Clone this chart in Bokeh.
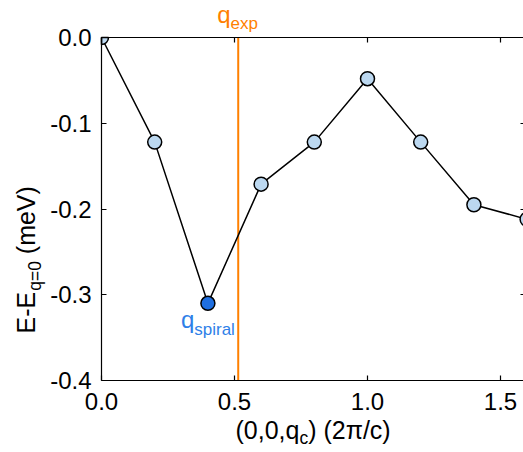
import math
from bokeh.plotting import figure
from bokeh.models import Range1d, LinearAxis, FixedTicker, PrintfTickFormatter, Label, ColumnDataSource
from bokeh.embed import file_html
from bokeh.resources import INLINE

# ---- data ----
q_values = [0.0, 0.2, 0.4, 0.6, 0.8, 1.0, 1.2, 1.4, 1.6]
energy = [0.0, -0.122, -0.310, -0.171, -0.122, -0.048, -0.122, -0.195, -0.212]
q_exp = 0.514
x_ticks = [0.0, 0.5, 1.0, 1.5]
y_ticks = [0.0, -0.1, -0.2, -0.3, -0.4]
x_label_parts = ["(0,0,q", "c", ") (2\u03c0/c)"]
y_label_parts = ["E-E", "q=0", "(meV)"]

FONT = "Liberation Sans"
ORANGE = "#ff8000"
BLUE_PT = "#1f6fe0"
BLUE_TXT = "#2f7fe8"
LIGHT = "#bcd8f0"

# canvas geometry (pixels)
W_PX, H_PX = 523, 448
BOX_L, BOX_T, BOX_B = 101, 37, 380          # data box edges
PX_X = 266.0                                 # pixels per x unit
PX_Y = (BOX_B - BOX_T) / 0.4                 # pixels per y unit
x_start = -BOX_L / PX_X
x_end = (W_PX - BOX_L) / PX_X
x_box_end = (525 - BOX_L) / PX_X
y_end = BOX_T / PX_Y
y_start = -0.4 - (H_PX - BOX_B) / PX_Y

# Arial / Liberation Sans advance widths (em)
W = {"E": .667, "-": .333, "q": .556, "=": .584, "0": .556, " ": .278, "(": .333,
     "m": .833, "e": .556, "V": .667, ")": .333, ",": .278, "c": .5, "2": .556,
     "\u03c0": .549, "/": .278}

def tw(s, size):
    return sum(W.get(ch, .556) for ch in s) * size

y_lo, y_hi = min(y_ticks), max(y_ticks)
spiral_index = energy.index(min(energy))
colors = [BLUE_PT if i == spiral_index else LIGHT for i in range(len(q_values))]
# the point sitting on the corner of the data box is only drawn inside the box
corner = [i for i in range(len(q_values)) if q_values[i] == x_ticks[0] and energy[i] == y_hi]
inner = [i for i in range(len(q_values)) if i not in corner]
src_line = ColumnDataSource(dict(x=q_values, y=energy))
src_pts = ColumnDataSource(dict(x=[q_values[i] for i in inner], y=[energy[i] for i in inner],
                                c=[colors[i] for i in inner]))
src_corner = ColumnDataSource(dict(x=[q_values[i] for i in corner], y=[energy[i] for i in corner],
                                   c=[colors[i] for i in corner]))

p = figure(width=W_PX, height=H_PX,
           x_range=Range1d(x_start, x_end), y_range=Range1d(y_start, y_end),
           output_backend="svg", toolbar_location=None,
           x_axis_location=None, y_axis_location=None,
           min_border_left=0, min_border_top=0, min_border_bottom=0, min_border_right=0)
p.outline_line_color = None
p.background_fill_color = "white"
p.border_fill_color = "white"
for g in p.grid:
    g.visible = False

def make_axis(ticks, loc, bounds, labels=True, line=True, standoff=8):
    ax = LinearAxis(ticker=FixedTicker(ticks=ticks), formatter=PrintfTickFormatter(format="%.1f"),
                    fixed_location=loc, bounds=bounds)
    ax.major_tick_in = 5
    ax.major_tick_out = 0
    ax.minor_tick_in = 0
    ax.minor_tick_out = 0
    ax.major_tick_line_color = "black"
    ax.major_tick_line_width = 1.2
    ax.axis_line_color = "black" if line else None
    ax.axis_line_width = 1.2
    ax.major_label_text_font = FONT
    ax.major_label_text_font_size = "24px"
    ax.major_label_text_color = "black"
    ax.major_label_standoff = standoff
    if not labels:
        ax.major_label_overrides = {t: "" for t in ticks}
        ax.major_label_standoff = 0
    return ax

# experimental wave-vector line
p.segment(x0=[q_exp], y0=[y_lo], x1=[q_exp], y1=[y_hi], line_color=ORANGE, line_width=2)

p.line("x", "y", source=src_line, line_color="black", line_width=1.5)
p.wedge("x", "y", source=src_corner, radius=7, radius_units="screen",
        start_angle=-math.pi / 2, end_angle=0, fill_color="c", line_color="black", line_width=1.5)
p.scatter("x", "y", source=src_pts, size=14, fill_color="c", line_color="black", line_width=1.5)

p.add_layout(make_axis(x_ticks, y_lo, (0, x_box_end), standoff=12), "below")
p.add_layout(make_axis(y_ticks, 0, (y_lo, y_hi), standoff=10), "left")
p.add_layout(make_axis(x_ticks, y_hi, (0, x_box_end), labels=False), "above")
p.add_layout(make_axis(y_ticks, x_box_end, (y_lo, y_hi), labels=False, line=False), "right")

BASE_FIX = 0.34  # rendered baseline sits ~0.34*size lower than requested

def lab(text, x, y, size, color="black", xu="screen", yu="screen", xo=0, yo=0, angle=0):
    p.add_layout(Label(x=x, y=y, x_units=xu, y_units=yu, x_offset=xo, y_offset=yo,
                       text=text, text_font=FONT, text_font_size=f"{size}px",
                       text_color=color, text_align="left", text_baseline="alphabetic",
                       angle=angle))

MAIN, SUB = 25, 17.5
# x-axis title (screen units from bottom-left of canvas)
x0 = 235
yb = H_PX - 438 + BASE_FIX * MAIN
ys = H_PX - 443 + BASE_FIX * SUB
lab(x_label_parts[0], x0, yb, MAIN)
x1 = x0 + tw(x_label_parts[0], MAIN)
lab(x_label_parts[1], x1, ys, SUB)
x2 = x1 + tw(x_label_parts[1], SUB)
lab(x_label_parts[2], x2, yb, MAIN)

# y-axis title (rotated)
xb = 34 - BASE_FIX * MAIN
xs = 40 - BASE_FIX * SUB
y0 = H_PX - 333
lab(y_label_parts[0], xb, y0, MAIN, angle=math.pi / 2)
y1 = y0 + tw(y_label_parts[0], MAIN) + 1
lab(y_label_parts[1], xs, y1, SUB, angle=math.pi / 2)
y2 = y1 + tw(y_label_parts[1], SUB) + tw(" ", MAIN)
lab(y_label_parts[2], xb, y2, MAIN, angle=math.pi / 2)

# q_exp annotation
lab("q", q_exp, y_hi, 24, ORANGE, xu="data", yu="data", xo=-21, yo=14.5 + BASE_FIX * 24)
lab("exp", q_exp, y_hi, 17, ORANGE, xu="data", yu="data", xo=-21 + tw("q", 24), yo=8.5 + BASE_FIX * 17)

# q_spiral annotation
sx, sy = q_values[spiral_index], energy[spiral_index]
lab("q", sx, sy, 24, BLUE_TXT, xu="data", yu="data", xo=-27, yo=-24.5 + BASE_FIX * 24)
lab("spiral", sx, sy, 17, BLUE_TXT, xu="data", yu="data", xo=-27 + tw("q", 24), yo=-31.5 + BASE_FIX * 17)

open("out.html", "w").write(file_html(p, INLINE))
